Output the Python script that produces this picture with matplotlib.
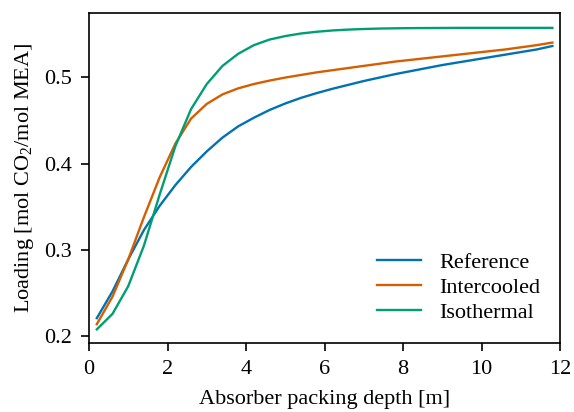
import matplotlib
matplotlib.use("Agg")
import matplotlib.pyplot as plt

plt.rcParams['font.family'] = ['Liberation Serif', 'DejaVu Serif']
plt.rcParams['mathtext.default'] = 'regular'
plt.rcParams['font.size'] = 16

# profundidad de empaque [m]
depth = [0.2, 0.6, 1.0, 1.4, 1.8, 2.2, 2.6, 3.0, 3.4, 3.8, 4.2, 4.6, 5.0, 5.4, 5.8,
         6.2, 6.6, 7.0, 7.4, 7.8, 8.2, 8.6, 9.0, 9.4, 9.8, 10.2, 10.6, 11.0, 11.4, 11.8]

reference = [0.221, 0.252, 0.289, 0.323, 0.351, 0.375, 0.396, 0.414, 0.430, 0.443,
             0.453, 0.462, 0.4695, 0.476, 0.4815, 0.4865, 0.491, 0.4955, 0.4995, 0.5035,
             0.507, 0.5105, 0.514, 0.517, 0.520, 0.523, 0.526, 0.529, 0.532, 0.536]
intercooled = [0.214, 0.246, 0.289, 0.338, 0.384, 0.423, 0.452, 0.469, 0.480, 0.487,
               0.492, 0.496, 0.4995, 0.5025, 0.5055, 0.508, 0.5105, 0.513, 0.5155, 0.518,
               0.520, 0.522, 0.524, 0.526, 0.528, 0.530, 0.532, 0.5345, 0.537, 0.540]
isothermal = [0.208, 0.226, 0.258, 0.305, 0.364, 0.420, 0.463, 0.492, 0.513, 0.527,
              0.537, 0.5435, 0.5475, 0.5505, 0.5525, 0.554, 0.555, 0.5557, 0.5562, 0.5565,
              0.5567, 0.5568, 0.5569, 0.557, 0.557, 0.557, 0.557, 0.557, 0.557, 0.557]

fig, ax = plt.subplots(figsize=(5.74, 4.12), dpi=100)
ax.plot(depth, reference, color='#0072B2', lw=1.7, label='Reference')
ax.plot(depth, intercooled, color='#D55E00', lw=1.7, label='Intercooled')
ax.plot(depth, isothermal, color='#009E73', lw=1.7, label='Isothermal')

ax.set_xlim(0, 12)
ax.set_ylim(0.192, 0.574)
ax.set_xticks([0, 2, 4, 6, 8, 10, 12])
ax.set_yticks([0.2, 0.3, 0.4, 0.5])
ax.set_xlabel('Absorber packing depth [m]', labelpad=8)
ax.set_ylabel('Loading [mol CO$_2$/mol MEA]', labelpad=6)
for s in ax.spines.values():
    s.set_linewidth(1.2)
ax.tick_params(width=1.2, length=6, pad=6)
ax.legend(loc='lower right', frameon=False, labelspacing=0.2)

fig.subplots_adjust(left=0.155, right=0.976, top=0.968, bottom=0.167)
fig.savefig('out.png')
